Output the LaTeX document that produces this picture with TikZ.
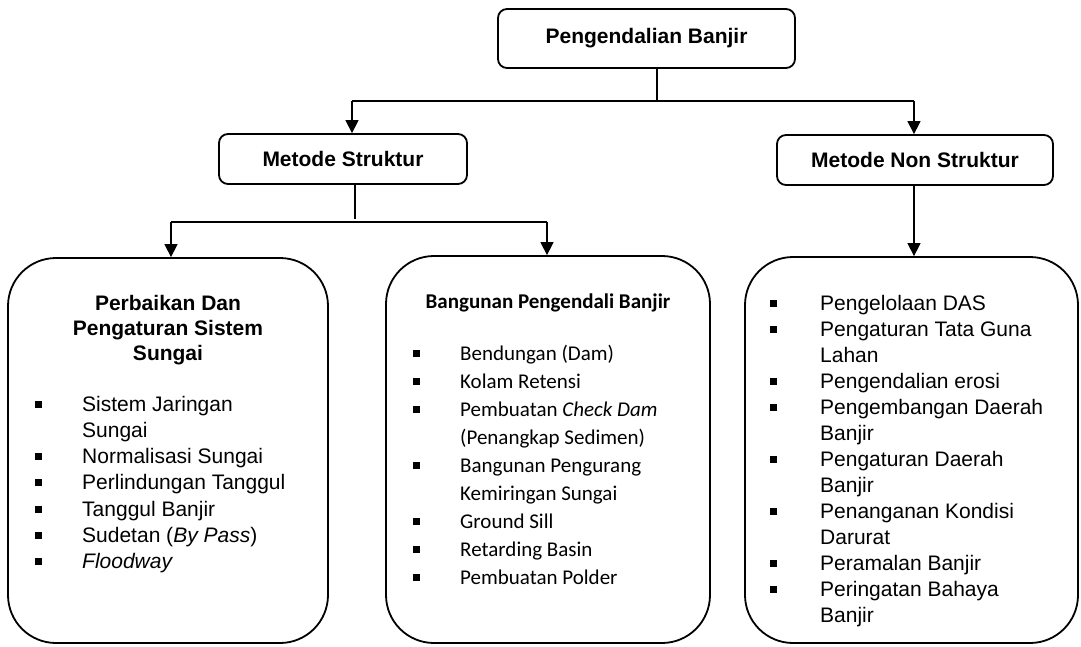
\documentclass[tikz,border=0pt]{standalone}
\usepackage{fontspec}
\setmainfont{Liberation Sans}
\newfontfamily\calfont{Carlito}
\usetikzlibrary{arrows.meta}
\begin{document}
\begin{tikzpicture}[x=1pt,y=-1pt,
  box/.style={draw, line width=1.8pt, rounded corners=9pt, font=\bfseries\fontsize{21}{25}\selectfont, inner sep=0pt},
  bigbox/.style={draw, line width=1.8pt, rounded corners=48pt, inner sep=0pt},
  conn/.style={line width=1.4pt},
  arr/.style={conn, -{Triangle[length=13pt,width=13pt]}},
  txt/.style={anchor=base west, inner sep=0pt, font=\fontsize{21}{26}\selectfont},
  ctxt/.style={anchor=base west, inner sep=0pt, font=\calfont\fontsize{21}{28}\selectfont},
  bul/.style={fill, minimum size=7pt, inner sep=0pt},
]
\useasboundingbox (0,0) rectangle (1081,646);

% boxes
\node[box, minimum width=297pt, minimum height=59pt] (top) at (646.5,38.5) {Pengendalian Banjir};
\node[box, minimum width=248pt, minimum height=50pt] (ms) at (343,159) {Metode Struktur};
\node[box, minimum width=276pt, minimum height=50pt] (mns) at (915,160) {Metode Non Struktur};
\node[bigbox, minimum width=320pt, minimum height=385pt] (b1) at (168,450.5) {};
\node[bigbox, minimum width=324pt, minimum height=387pt] (b2) at (548,449.5) {};
\node[bigbox, minimum width=333pt, minimum height=386pt] (b3) at (911.5,450) {};

% connectors
\coordinate (j1) at (657,101);
\coordinate (a1) at (352,101);
\coordinate (a2) at (914,101);
\draw[conn] (top.south -| j1) -- (j1);
\draw[conn] (a1) -- (a2);
\draw[arr] (a1) -- (a1 |- ms.north);
\draw[arr] (a2) -- (a2 |- mns.north);
\draw[arr] (mns.south -| a2) -- (a2 |- b3.north);
\coordinate (j2) at (355,222);
\coordinate (c1) at (171,222);
\coordinate (c2) at (547,222);
\draw[conn] (ms.south -| j2) -- ([yshift=3pt]j2);
\draw[conn] (c1) -- (c2);
\draw[arr] (c1) -- (c1 |- b1.north);
\draw[arr] (c2) -- (c2 |- b2.north);

% headings
\node[font=\bfseries\fontsize{21}{25}\selectfont, align=center, inner sep=0pt] (h1) at (168,330) {Perbaikan Dan\\Pengaturan Sistem\\Sungai};
\node[font=\calfont\bfseries\fontsize{21}{25}\selectfont, inner sep=0pt] (h2) at (548,303) {Bangunan Pengendali Banjir};

% left list
\foreach \t/\b [count=\i from 0] in {{Sistem Jaringan}/1,{Sungai}/0,{Normalisasi Sungai}/1,{Perlindungan Tanggul}/1,{Tanggul Banjir}/1,{Sudetan (\textit{By Pass})}/1,{\textit{Floodway}}/1}{
  \node[txt] (la\i) at (82,{411+26.3*\i}) {\t};
  \ifnum\b=1 \node[bul] (lb\i) at (38,{404+26.3*\i}) {};\fi
}

% middle list
\foreach \t/\b [count=\i from 0] in {{Bendungan (Dam)}/1,{Kolam Retensi}/1,{Pembuatan \textit{Check Dam}}/1,{(Penangkap Sedimen)}/0,{Bangunan Pengurang}/1,{Kemiringan Sungai}/0,{Ground Sill}/1,{Retarding Basin}/1,{Pembuatan Polder}/1}{
  \node[ctxt] (ma\i) at (460,{360+28.1*\i}) {\t};
  \ifnum\b=1 \node[bul] (mb\i) at (416,{353+28.1*\i}) {};\fi
}

% right list
\foreach \t/\b [count=\i from 0] in {{Pengelolaan DAS}/1,{Pengaturan Tata Guna}/1,{Lahan}/0,{Pengendalian erosi}/1,{Pengembangan Daerah}/1,{Banjir}/0,{Pengaturan Daerah}/1,{Banjir}/0,{Penanganan Kondisi}/1,{Darurat}/0,{Peramalan Banjir}/1,{Peringatan Bahaya}/1,{Banjir}/0}{
  \node[txt] (ra\i) at (820,{310+26.08*\i}) {\t};
  \ifnum\b=1 \node[bul] (rb\i) at (773,{303+26.08*\i}) {};\fi
}
\end{tikzpicture}
\end{document}
